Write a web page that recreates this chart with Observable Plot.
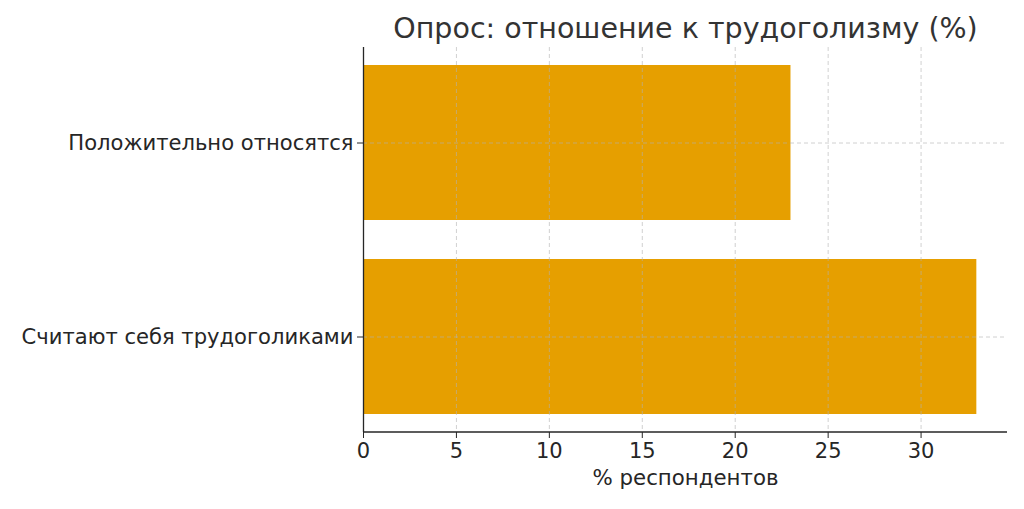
<!DOCTYPE html>
<html><head><meta charset="utf-8">
<script src="https://cdn.jsdelivr.net/npm/d3@7"></script>
<script src="https://cdn.jsdelivr.net/npm/@observablehq/plot@0.6"></script>
<style>
body{margin:0;background:#fff;}
svg{font-family:"DejaVu Sans",sans-serif;}
</style>
</head><body>
<div id="chart"></div>
<script>
const categories = ["Положительно относятся", "Считают себя трудоголиками"];
const values = [23, 33];
const xTicks = [0, 5, 10, 15, 20, 25, 30];
const title = "Опрос: отношение к трудоголизму (%)";
const xLabel = "% респондентов";

const data = categories.map((c, i) => ({category: c, value: values[i]}));

const chart = Plot.plot({
  width: 1024,
  height: 509,
  marginLeft: 363,
  marginRight: 17,
  marginTop: 47,
  marginBottom: 77,
  style: {fontFamily: "DejaVu Sans, sans-serif", color: "#262626", background: "#fff"},
  x: {domain: [0, 34.65], ticks: xTicks, label: null},
  y: {domain: categories, paddingInner: 0.2, paddingOuter: 0.09, label: null},
  marks: [
    Plot.barX(data, {x: "value", y: "category", fill: "#E69F00"}),
    Plot.ruleX(xTicks.slice(1), {stroke: "#b0b0b0", strokeDasharray: "4,3", strokeOpacity: 0.6, strokeWidth: 1}),
    Plot.ruleY(categories, {y: d => d, stroke: "#b0b0b0", strokeDasharray: "4,3", strokeOpacity: 0.6, strokeWidth: 1}),
    Plot.axisX({ticks: xTicks, tickSize: 6, tickPadding: 5, fontSize: 21, label: null, stroke: "#262626"}),
    Plot.axisY({tickSize: 6, tickPadding: 4, fontSize: 21.1, label: null, stroke: "#262626"}),
    Plot.ruleX([0], {stroke: "#262626", strokeWidth: 1.3}),
    Plot.text([title], {frameAnchor: "top", dy: -30, fontSize: 28.5, fill: "#333", text: d => d}),
    Plot.text([xLabel], {frameAnchor: "bottom", dy: 52, fontSize: 21.3, fill: "#262626", text: d => d})
  ]
});
document.getElementById("chart").appendChild(chart);
// bottom spine
const svg = d3.select(chart);
svg.append("line").attr("x1", 363).attr("x2", 1007).attr("y1", 432).attr("y2", 432).attr("stroke", "#262626").attr("stroke-width", 1.3);
</script>
</body></html>
